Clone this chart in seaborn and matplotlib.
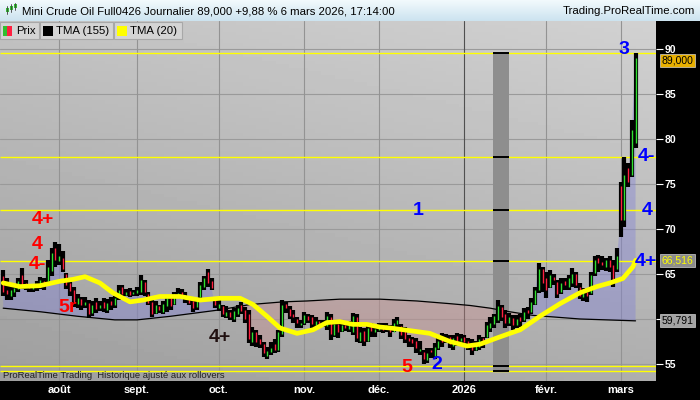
import numpy as np
import pandas as pd
import seaborn as sns
import matplotlib.pyplot as plt
from matplotlib.patches import Rectangle

# séances du 11 juillet 2025 au 6 mars 2026
dates = pd.bdate_range("2025-07-11", "2026-03-06")

highs = [65.4, 64.5, 63.8, 63.6, 64.5, 65.7, 64.3, 63.8, 63.9, 64.2,
         64.7, 64.5, 66.5, 67.9, 68.6, 68.3, 67.5, 65.1, 64.3, 63.6,
         62.8, 62.4, 62.4, 62.1, 62.0, 62.3, 62.0, 62.3, 62.2, 62.4,
         62.6, 63.8, 63.8, 63.3, 63.4, 63.2, 63.5, 64.9, 64.3, 63.0,
         62.3, 62.0, 61.6, 62.0, 62.7, 62.5, 63.0, 63.4, 63.3, 63.0,
         62.6, 62.4, 62.3, 64.1, 64.8, 65.5, 64.5, 62.3, 62.1, 61.6,
         61.4, 61.0, 61.2, 61.5, 61.9, 61.3, 61.0, 59.1, 58.8, 58.2,
         57.4, 56.9, 57.4, 57.8, 58.8, 62.1, 61.9, 61.4, 61.0, 60.2,
         59.9, 60.8, 60.5, 60.4, 60.2, 59.9, 59.9, 60.8, 60.5, 59.9,
         59.8, 59.7, 59.6, 59.8, 60.7, 60.5, 59.1, 59.0, 59.3, 59.6,
         59.3, 59.6, 59.5, 59.6, 59.3, 60.0, 60.2, 59.4, 59.1, 58.2,
         58.0, 57.9, 57.6, 56.6, 56.8, 56.8, 57.3, 58.0, 58.4, 58.3,
         58.2, 58.2, 58.4, 58.3, 58.2, 57.9, 57.8, 57.6, 58.2, 58.0,
         59.7, 60.2, 60.6, 62.1, 61.6, 61.0, 60.7, 60.4, 60.4, 60.5,
         61.2, 61.3, 62.3, 63.6, 66.2, 65.8, 65.2, 65.4, 65.0, 64.3,
         64.5, 64.6, 64.9, 65.7, 65.2, 64.0, 63.4, 63.2, 65.2, 67.0,
         67.1, 67.0, 66.8, 67.0, 66.6, 67.9, 75.2, 78.0, 77.3, 82.1,
         89.6]
lows = [62.5, 62.1, 62.1, 62.4, 63.0, 63.3, 63.2, 63.0, 63.0, 63.1,
        63.3, 63.2, 64.0, 64.8, 65.8, 66.0, 65.2, 63.3, 62.5, 61.3,
        61.2, 61.0, 61.2, 60.1, 60.3, 60.7, 60.9, 60.8, 60.7, 61.0,
        61.2, 62.1, 62.4, 62.5, 62.4, 62.5, 62.6, 62.7, 62.5, 61.5,
        60.2, 60.5, 60.7, 60.5, 60.8, 61.0, 61.5, 62.3, 62.2, 61.8,
        61.5, 60.8, 61.0, 62.3, 63.2, 63.5, 63.2, 61.2, 60.9, 60.2,
        60.1, 59.9, 59.7, 60.2, 60.6, 59.6, 57.3, 57.0, 56.9, 56.8,
        55.8, 55.6, 56.0, 56.2, 56.3, 58.0, 60.7, 60.0, 59.6, 59.0,
        59.0, 59.3, 59.5, 59.0, 59.1, 59.0, 59.1, 58.8, 57.7, 58.0,
        57.9, 58.6, 58.7, 58.6, 58.2, 57.4, 57.3, 57.0, 57.4, 58.0,
        58.0, 58.5, 58.4, 58.5, 58.0, 58.5, 58.8, 57.8, 57.3, 56.9,
        56.9, 56.2, 56.0, 55.0, 55.1, 55.7, 55.6, 56.6, 56.9, 57.3,
        56.8, 56.6, 57.0, 57.3, 57.1, 56.5, 56.0, 56.4, 56.6, 56.8,
        57.9, 58.5, 59.0, 59.6, 59.8, 59.0, 59.2, 58.8, 59.0, 59.1,
        59.7, 60.0, 60.6, 61.5, 62.9, 63.0, 62.3, 63.4, 63.8, 62.3,
        62.8, 63.2, 63.2, 63.6, 63.4, 62.2, 62.0, 61.9, 62.7, 64.8,
        65.2, 65.4, 65.3, 65.2, 63.6, 65.2, 69.1, 70.2, 74.7, 75.8,
        79.0]
opens = [64.8, 63.2, 62.6, 63.0, 63.3, 64.9, 64.0, 63.6, 63.3, 63.8,
         63.5, 64.2, 64.2, 65.3, 67.9, 66.4, 66.8, 65.0, 64.0, 63.2,
         61.7, 62.2, 61.5, 61.8, 60.7, 61.9, 61.2, 61.9, 61.0, 62.0,
         61.5, 62.4, 63.5, 62.7, 63.1, 62.8, 62.9, 63.0, 64.1, 62.8,
         61.9, 60.7, 61.4, 60.8, 61.4, 62.3, 61.7, 62.6, 63.0, 62.7,
         62.2, 62.0, 61.3, 62.4, 63.5, 65.2, 64.2, 62.1, 61.2, 61.4,
         60.3, 60.8, 60.0, 60.6, 61.6, 61.0, 60.6, 57.4, 58.5, 57.8,
         57.2, 55.9, 56.3, 57.2, 56.6, 58.3, 61.7, 61.1, 60.5, 60.0,
         59.3, 59.5, 60.3, 60.2, 59.3, 59.8, 59.3, 59.2, 60.2, 58.2,
         59.4, 58.7, 59.3, 58.9, 58.6, 60.2, 57.6, 58.7, 57.6, 59.2,
         58.5, 58.8, 59.3, 58.9, 59.2, 58.6, 59.4, 59.2, 58.9, 57.9,
         57.8, 57.6, 56.4, 56.3, 55.4, 56.5, 55.9, 56.8, 58.1, 57.6,
         58.0, 57.0, 58.1, 57.5, 58.0, 57.6, 57.3, 56.6, 56.9, 57.9,
         58.0, 59.0, 59.4, 59.9, 61.3, 60.6, 59.5, 60.1, 59.3, 60.2,
         59.9, 61.0, 60.8, 61.7, 63.2, 65.5, 64.6, 63.6, 64.7, 64.1,
         63.0, 64.2, 63.6, 64.0, 65.0, 63.6, 62.4, 63.0, 62.9, 65.1,
         66.8, 66.3, 65.8, 66.6, 66.0, 65.5, 74.8, 71.0, 76.8, 76.0,
         79.5]
closes = [63.0, 62.8, 63.2, 63.4, 64.2, 63.6, 63.6, 63.4, 63.7, 63.5,
          64.3, 63.9, 65.8, 67.3, 66.6, 67.0, 65.6, 63.8, 63.1, 61.8,
          62.3, 61.6, 61.9, 60.6, 61.5, 61.1, 61.6, 61.2, 61.8, 61.5,
          62.3, 63.2, 62.8, 63.0, 62.7, 63.0, 63.2, 64.3, 63.0, 61.8,
          60.6, 61.5, 61.0, 61.7, 62.3, 61.4, 62.8, 62.9, 62.5, 62.2,
          61.8, 61.2, 62.1, 63.8, 64.5, 64.0, 63.4, 61.5, 61.7, 60.5,
          60.8, 60.2, 60.9, 61.2, 60.9, 60.0, 57.8, 58.5, 57.4, 57.2,
          56.2, 56.4, 56.8, 56.6, 58.5, 61.6, 61.2, 60.3, 60.2, 59.5,
          59.5, 60.4, 59.9, 59.4, 59.8, 59.3, 59.6, 60.3, 58.3, 59.4,
          58.5, 59.3, 59.0, 59.4, 60.3, 57.9, 58.6, 57.5, 59.0, 58.7,
          58.9, 59.2, 58.8, 59.3, 58.6, 59.6, 59.9, 58.2, 57.8, 57.6,
          57.3, 56.8, 56.7, 55.5, 56.2, 56.3, 56.9, 57.6, 57.4, 57.7,
          57.2, 57.9, 57.5, 57.9, 57.4, 56.9, 56.5, 57.3, 57.8, 57.6,
          59.3, 59.6, 60.3, 61.4, 60.2, 59.6, 60.2, 59.3, 60.0, 59.8,
          60.8, 60.7, 61.9, 63.2, 65.6, 64.0, 63.2, 64.9, 64.3, 62.8,
          64.0, 63.8, 64.5, 65.0, 63.8, 62.6, 62.9, 62.5, 64.9, 66.6,
          66.2, 66.0, 66.5, 65.8, 64.2, 67.0, 71.0, 76.0, 75.2, 81.0,
          89.0]

# moyennes TMA (position en séances)
tma20_at = [0, 4.5, 9.9, 15.3, 18.8, 22, 26, 29.5, 34.1, 37.6, 42.1, 47.5,
            52.9, 58.3, 63.7, 67.2, 70.9, 74.4, 79, 83.3, 87, 90.5, 94,
            97.8, 101.3, 104, 109.4, 114.7, 120.1, 124.7, 128.2, 132.8,
            136.2, 139, 144.3, 149.7, 155, 159.6, 163.1, 166.6, 169.3, 170]
tma20 = [64.0, 63.6, 63.7, 64.2, 64.4, 64.7, 64.0, 62.9, 61.9, 62.1, 62.5, 62.5,
         62.1, 62.3, 62.3, 61.6, 60.3, 59.0, 58.4, 58.8, 59.6, 59.7, 59.4,
         59.4, 59.1, 59.0, 58.7, 58.4, 57.5, 57.0, 57.2, 57.9,
         58.4, 58.8, 60.3, 61.7, 62.9, 63.6, 64.0, 64.5, 65.8, 66.516]
tma155_at = [0, 10, 20, 30, 36, 45, 58, 66.3, 75.2, 81.7, 90.5, 101.3,
             111.2, 120.1, 125.5, 130.9, 136.2, 142.4, 155, 170]
tma155 = [61.2, 60.8, 60.3, 59.9, 59.9, 60.3, 61.0, 61.6, 61.9, 62.0, 62.2, 62.2,
          62.0, 61.7, 61.5, 61.2, 60.8, 60.4, 60.0, 59.791]

levels = [89.6, 78.0, 72.1, 66.4, 54.8, 54.2]

month_labels = ["août", "sept.", "oct.", "nov.", "déc.", "2026", "févr.", "mars"]
month_starts = ["2025-08-01", "2025-09-01", "2025-10-01", "2025-11-01",
                "2025-12-01", "2026-01-01", "2026-02-01", "2026-03-01"]
ytick_labels = ["55", "", "65", "70", "75", "80", "85", "90"]

waves = [("4+", 10.7, 71.0, "#ff0000"), ("4", 9.1, 68.3, "#ff0000"),
         ("4-", 9.1, 66.1, "#ff0000"), ("5r", 17.2, 61.3, "#ff0000"),
         ("4+", 58.3, 57.9, "#201010"), ("5", 108.5, 54.6, "#ff0000"),
         ("2", 116.6, 54.9, "#0000ff"), ("1", 111.5, 72.1, "#0000ff"),
         ("3", 166.9, 89.9, "#0000ff"), ("4-", 172.8, 78.0, "#0000ff"),
         ("4", 173.1, 72.1, "#0000ff"), ("4+", 172.8, 66.4, "#0000ff")]

sns.set_style("white")
plt.rcParams['font.family'] = ['Liberation Sans', 'DejaVu Sans']

W, H = 700, 400
fig = plt.figure(figsize=(7, 4), dpi=100, facecolor="black")
ax = fig.add_axes([0, 19 / H, 656 / W, 360 / H])
x0, x1 = -0.86, 175.5
y0, y1 = 53.11, 93.1
ax.set_xlim(x0, x1)
ax.set_ylim(y0, y1)

# fond dégradé
gx, gy = np.meshgrid(np.linspace(0, 1, 100), np.linspace(0, 1, 100))
shade = 0.62 + 0.14 * gy + 0.06 * gx
ax.imshow(shade, cmap="gray", vmin=0, vmax=1, extent=[x0, x1, y0, y1],
          origin="lower", aspect="auto", zorder=0)

for v in range(55, 91, 5):
    ax.axhline(v, color="#9a9a9a", lw=0.8, zorder=1)
month_idx = dates.searchsorted(pd.to_datetime(month_starts))
for lab, m in zip(month_labels, month_idx):
    ax.axvline(m, color="#505050" if lab == "2026" else "#939393", lw=0.8, zorder=1)

x = np.arange(len(closes))
c = np.array(closes)
t155 = np.interp(x, tma155_at, tma155)
ax.fill_between(x, c, t155, where=c >= t155, interpolate=True,
                color="#8080d8", alpha=0.4, lw=0, zorder=2)
ax.fill_between(x, c, t155, where=c < t155, interpolate=True,
                color="#d08c8c", alpha=0.35, lw=0, zorder=2)

ax.hlines(levels, x0, x1, colors="#ffff00", lw=1.0, zorder=3)
# bande grise (rollover)
ax.add_patch(Rectangle((131.7, 54.2), 4.3, 89.6 - 54.2, fc="#8e8e8e", ec="none", zorder=3.5))
ax.hlines(levels, 131.7, 136.0, colors="black", lw=1.4, zorder=3.6)

sns.lineplot(x=tma155_at, y=tma155, color="black", lw=0.9, ax=ax, zorder=3.8)

ax.vlines(x, lows, highs, colors="black", lw=3.0, zorder=4)
body_cols = ["#30e030" if cl >= op else "#ff2040" for op, cl in zip(opens, closes)]
ax.vlines(x, opens, closes, colors=body_cols, lw=1.0, zorder=5)

sns.lineplot(x=tma20_at, y=tma20, color="#ffff00", lw=3.4, ax=ax, zorder=6)

for s, xi, yv, col in waves:
    ax.text(xi, yv, s, color=col, fontsize=14, fontweight="bold",
            ha="center", va="center", zorder=7)

# axes
ax.yaxis.tick_right()
ax.set_yticks(range(55, 91, 5))
ax.set_yticklabels(ytick_labels)
ax.tick_params(axis="y", colors="white", labelsize=7.5, length=5, width=0.8, pad=1)
ax.set_xticks(month_idx)
ax.set_xticklabels(month_labels)
ax.tick_params(axis="x", colors="white", labelsize=8, length=0, pad=3)
for t in ax.get_yticklabels() + ax.get_xticklabels():
    t.set_fontweight("bold")
for sp in ax.spines.values():
    sp.set_visible(False)
ax.set_xlabel("")
ax.set_ylabel("")

# étiquettes de prix
for val, txt, fc, tc in [(88.75, "89,000", "#e8b000", "black"),
                         (66.516, "66,516", "#8c8c8c", "#ffff00"),
                         (59.791, "59,791", "#a4a4a4", "black")]:
    ax.annotate(txt, xy=(1.009, val), xycoords=("axes fraction", "data"),
                ha="left", va="center", fontsize=7.5, color=tc, zorder=10,
                annotation_clip=False,
                bbox=dict(boxstyle="square,pad=0.15", fc=fc, ec="#d0d0d0", lw=0.5))

# barre de titre
tb = fig.add_axes([0, 379 / H, 1, 21 / H])
tg = np.linspace(0, 1, 50).reshape(-1, 1)
tb.imshow(np.dstack([0.80 + 0.15 * tg, 0.89 + 0.09 * tg, 0.94 + 0.05 * tg]),
          aspect="auto", origin="lower", extent=[0, 1, 0, 1])
tb.axis("off")


def px(xp, yp):
    return xp / W, 1 - yp / H


fig.text(*px(22, 11), "Mini Crude Oil Full0426 Journalier 89,000 +9,88 % 6 mars 2026, 17:14:00",
         fontsize=8.2, va="center", color="black")
fig.text(*px(695, 11), "Trading.ProRealTime.com", fontsize=8.2, va="center", ha="right", color="black")
for cx, b0, b1, w0, w1 in [(7, 12, 8, 14, 6), (11, 10, 6, 12, 4), (15, 8, 4, 10, 3)]:
    fig.add_artist(plt.Line2D([cx / W] * 2, [1 - w0 / H, 1 - w1 / H], color="#404040", lw=0.6))
    fig.add_artist(Rectangle(px(cx - 1.5, b0), 3 / W, (b0 - b1) / H, fc="#30c030", ec="none"))

# légende
for bx0, bw, sw, txt in [(0, 39, None, "Prix"), (40, 73, "black", "TMA (155)"),
                         (114, 68, "#ffff00", "TMA (20)")]:
    fig.add_artist(Rectangle(px(bx0, 39), bw / W, 17 / H, fc="#d4d4d4", ec="#a8a8a8", lw=0.8))
    if sw is None:
        fig.add_artist(Rectangle(px(bx0 + 3, 36), 4 / W, 10 / H, fc="#30c030", ec="none"))
        fig.add_artist(Rectangle(px(bx0 + 7, 36), 5 / W, 10 / H, fc="#ff2040", ec="none"))
    else:
        fig.add_artist(Rectangle(px(bx0 + 3, 36), 10 / W, 10 / H, fc=sw, ec="none"))
    fig.text(*px(bx0 + 16, 31), txt, fontsize=8.2, va="center", color="black")

fig.text(*px(3, 376), "ProRealTime Trading  Historique ajusté aux rollovers",
         fontsize=6.8, va="center", color="#202020")

fig.savefig("out.png", dpi=100, facecolor="black")
